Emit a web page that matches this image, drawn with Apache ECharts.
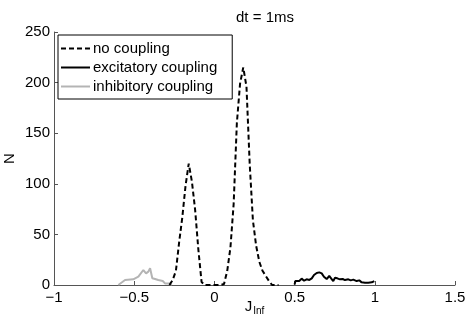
<!DOCTYPE html>
<html lang="en">
<head>
    <meta charset="utf-8"/>
    <title>dt = 1ms</title>
    <script src="https://cdn.jsdelivr.net/npm/echarts@6/dist/echarts.min.js"></script>
</head>
<body style="margin: 0; background: #fff">
<div id="chart" style="width: 469px; height: 327px"></div>
<script>
    // histogram of J_Inf
    const noCouplingX = [-0.28, -0.26, -0.24, -0.22, -0.20, -0.18, -0.16, -0.14, -0.12, -0.10, -0.08, -0.06,
        -0.04, -0.02, 0.00, 0.02, 0.04, 0.06, 0.08, 0.10, 0.12, 0.14, 0.16, 0.18, 0.20, 0.22, 0.24,
        0.26, 0.28, 0.30, 0.32, 0.34, 0.36, 0.38, 0.40];
    const noCouplingN = [0, 5, 14, 42, 67, 98, 120, 102, 74, 35, 3, 0,
        0, 0, 0, 0, 0, 1, 14, 37, 80, 160, 199, 215, 196, 120, 64,
        39, 23, 14, 9, 4, 0, 0, 0];

    const excitX = [0.50, 0.505, 0.517, 0.529, 0.544, 0.559, 0.575, 0.592, 0.607, 0.621, 0.638, 0.654,
        0.669, 0.683, 0.700, 0.716, 0.731, 0.741, 0.752, 0.766, 0.783, 0.800, 0.814, 0.835, 0.850,
        0.866, 0.887, 0.903, 0.918, 0.939, 0.959, 0.981, 0.997];
    const excitN = [0.5, 4, 5.3, 4, 6.3, 4.3, 5.6, 5, 6.6, 9.9, 11.9, 12.5,
        11.5, 8.2, 5.9, 8.9, 5.9, 3.9, 7.2, 6.6, 5.6, 5.9, 4.9, 5.6, 4.6,
        5.3, 3.9, 4.6, 2.6, 2.3, 2.3, 2.6, 3.9];

    const inhibX = [-0.599, -0.557, -0.506, -0.474, -0.443, -0.426, -0.412, -0.401, -0.387, -0.370,
        -0.350, -0.339, -0.322, -0.308, -0.281, -0.266];
    const inhibN = [0, 4.9, 5.6, 8.2, 14.8, 11.5, 13.2, 16.5, 6.6, 5.9,
        4.9, 3.3, 4, 1.6, 1.6, 0];

    const seriesNames = ['no coupling', 'excitatory coupling', 'inhibitory coupling'];

    function pairs(xs, ys) {
        return xs.map((x, i) => [x, ys[i]]);
    }

    const font = 'Liberation Sans, Arial, Helvetica, sans-serif';
    const fs = 15;
    const minus = v => String(v).replace('-', '\u2212');

    let chart = echarts.init(document.getElementById('chart'), null, {renderer: 'canvas'});
    chart.setOption({
        animation: false,
        textStyle: {fontFamily: font, color: '#000'},
        title: {
            text: 'dt = 1ms',
            left: 260,
            top: 5,
            textAlign: 'center',
            textStyle: {fontFamily: font, fontSize: fs, fontWeight: 'normal', color: '#000'}
        },
        grid: {left: 54, right: 14, top: 32, bottom: 42, containLabel: false, outerBoundsMode: 'none'},
        legend: {
            orient: 'vertical',
            left: 58,
            top: 35,
            data: seriesNames,
            itemWidth: 29,
            itemHeight: 14,
            itemGap: 4,
            padding: [6, 15, 5, 2],
            backgroundColor: '#fff',
            borderColor: '#000',
            borderWidth: 1,
            borderRadius: 0,
            itemStyle: {opacity: 0},
            textStyle: {fontFamily: font, fontSize: fs, color: '#000', padding: [0, 0, 0, -2]}
        },
        xAxis: {
            type: 'value',
            min: -1,
            max: 1.5,
            interval: 0.5,
            name: '{a|J}{b|Inf}',
            nameLocation: 'middle',
            nameGap: 12,
            nameMoveOverlap: false,
            nameTextStyle: {
                rich: {
                    a: {fontFamily: font, fontSize: fs, color: '#000'},
                    b: {fontFamily: font, fontSize: 10, color: '#000', padding: [9, 0, 0, 1]}
                }
            },
            axisLine: {show: true, onZero: false, lineStyle: {color: '#555', width: 1}},
            axisTick: {show: true, inside: true, length: 4, lineStyle: {color: '#555'}},
            axisLabel: {fontFamily: font, fontSize: fs, color: '#000', margin: 5, formatter: minus},
            splitLine: {show: false}
        },
        yAxis: {
            type: 'value',
            min: 0,
            max: 250,
            interval: 50,
            name: 'N',
            nameLocation: 'middle',
            nameGap: 37,
            nameMoveOverlap: false,
            nameTextStyle: {fontFamily: font, fontSize: fs, color: '#000'},
            axisLine: {show: true, onZero: false, lineStyle: {color: '#555', width: 1}},
            axisTick: {show: true, inside: true, length: 4, lineStyle: {color: '#555'}},
            axisLabel: {fontFamily: font, fontSize: fs, color: '#000', margin: 4},
            splitLine: {show: false}
        },
        series: [
            {
                name: seriesNames[0],
                type: 'line',
                data: pairs(noCouplingX, noCouplingN),
                symbol: 'none',
                lineStyle: {color: '#000', width: 2, type: [5, 3]},
                itemStyle: {color: '#000'},
                z: 3
            },
            {
                name: seriesNames[1],
                type: 'line',
                data: pairs(excitX, excitN),
                symbol: 'none',
                lineStyle: {color: '#000', width: 2},
                itemStyle: {color: '#000'},
                z: 2
            },
            {
                name: seriesNames[2],
                type: 'line',
                data: pairs(inhibX, inhibN),
                symbol: 'none',
                lineStyle: {color: '#b4b4b4', width: 2},
                itemStyle: {color: '#b4b4b4'},
                z: 2
            }
        ]
    });
</script>
</body>
</html>
